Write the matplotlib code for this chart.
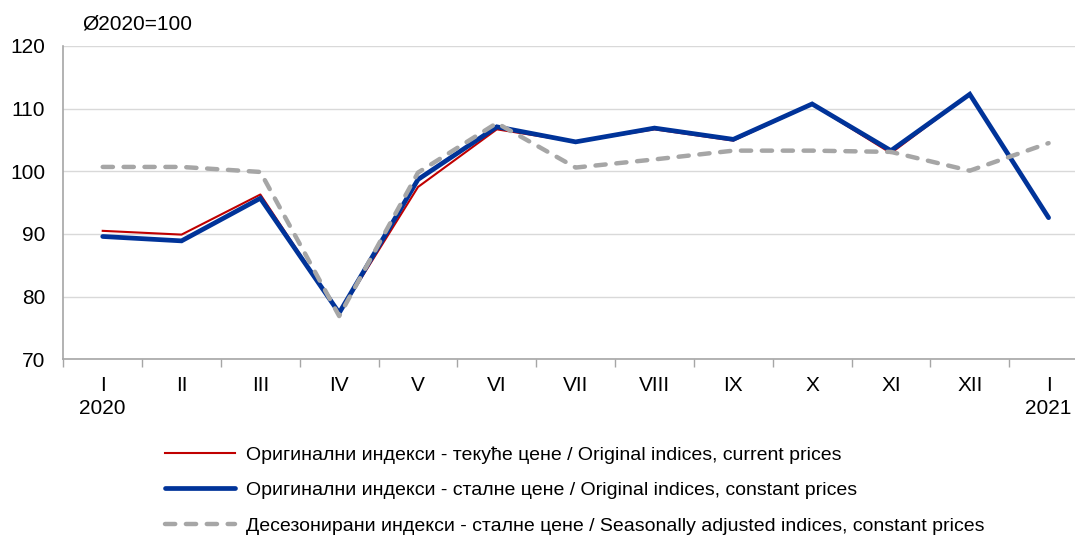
import matplotlib
matplotlib.use("Agg")
import numpy as np
from matplotlib import pyplot as plt

# Podaci (ocitano sa grafikona), Ø2020=100
months = ["I", "II", "III", "IV", "V", "VI", "VII", "VIII", "IX", "X", "XI", "XII", "I"]
years = ["2020", "", "", "", "", "", "", "", "", "", "", "", "2021"]
current_prices = [90.5, 89.9, 96.3, 77.3, 97.5, 106.7, 104.7, 106.7, 104.9, 110.7, 102.9, 112.3, 92.6]
constant_prices = [89.6, 88.9, 95.7, 77.4, 98.7, 107.1, 104.7, 106.9, 105.1, 110.75, 103.3, 112.3, 92.6]
seasonally_adj = [100.7, 100.7, 99.9, 76.9, 99.8, 107.7, 100.6, 101.9, 103.3, 103.3, 103.1, 100.1, 104.5]

labels = [
    "Оригинални индекси - текуће цене / Original indices, current prices",
    "Оригинални индекси - сталне цене / Original indices, constant prices",
    "Десезонирани индекси - сталне цене / Seasonally adjusted indices, constant prices",
]

plt.rcParams["font.family"] = ["Liberation Sans", "DejaVu Sans"]

W, H = 1075, 535
fig = plt.figure(figsize=(W / 100, H / 100), dpi=100)
# osa se produzava malo preko desne ivice kao u originalu
ax = fig.add_axes([63.3 / W, (H - 359.3) / H, (1088 - 63.3) / W, (359.3 - 46) / H])

x = np.arange(len(months))
ax.plot(x, current_prices, color="#C00000", lw=1.5, label=labels[0])
ax.plot(x, constant_prices, color="#003399", lw=3.4, solid_capstyle="round",
        solid_joinstyle="miter", label=labels[1])
ax.plot(x, seasonally_adj, color="#A6A6A6", lw=3.2, dashes=(2.3, 2.4),
        dash_capstyle="round", label=labels[2])

ax.set_xlim(-0.5, len(months) - 0.5)
ax.set_ylim(70, 120)
ax.set_yticks(range(70, 121, 10))
ax.yaxis.grid(True, color="#D9D9D9", lw=1.0)
ax.set_axisbelow(True)
ax.tick_params(axis="y", length=0, pad=13, labelsize=15)

ax.set_xticks(x)
ax.set_xticklabels([m + "\n" + y if y else m for m, y in zip(months, years)],
                   fontsize=15, linespacing=1.25)
ax.set_xticks(np.arange(-0.5, len(months)), minor=True)
ax.tick_params(axis="x", which="major", length=0, pad=12)
ax.tick_params(axis="x", which="minor", length=6, color="#A6A6A6", width=1)

for side in ["top", "right"]:
    ax.spines[side].set_visible(False)
for side in ["left", "bottom"]:
    ax.spines[side].set_color("#A6A6A6")
    ax.spines[side].set_linewidth(1.2)

fig.text(82 / W, 1 - 24 / H, "Ø2020=100", fontsize=15, va="center", ha="left")

fig.legend(loc="upper left", bbox_to_anchor=(165 / W, 1 - 446 / H), frameon=False,
           fontsize=14, handlelength=3.6, handletextpad=0.55, labelspacing=0.92,
           borderaxespad=0, borderpad=0)

fig.savefig("out.png", dpi=100)
